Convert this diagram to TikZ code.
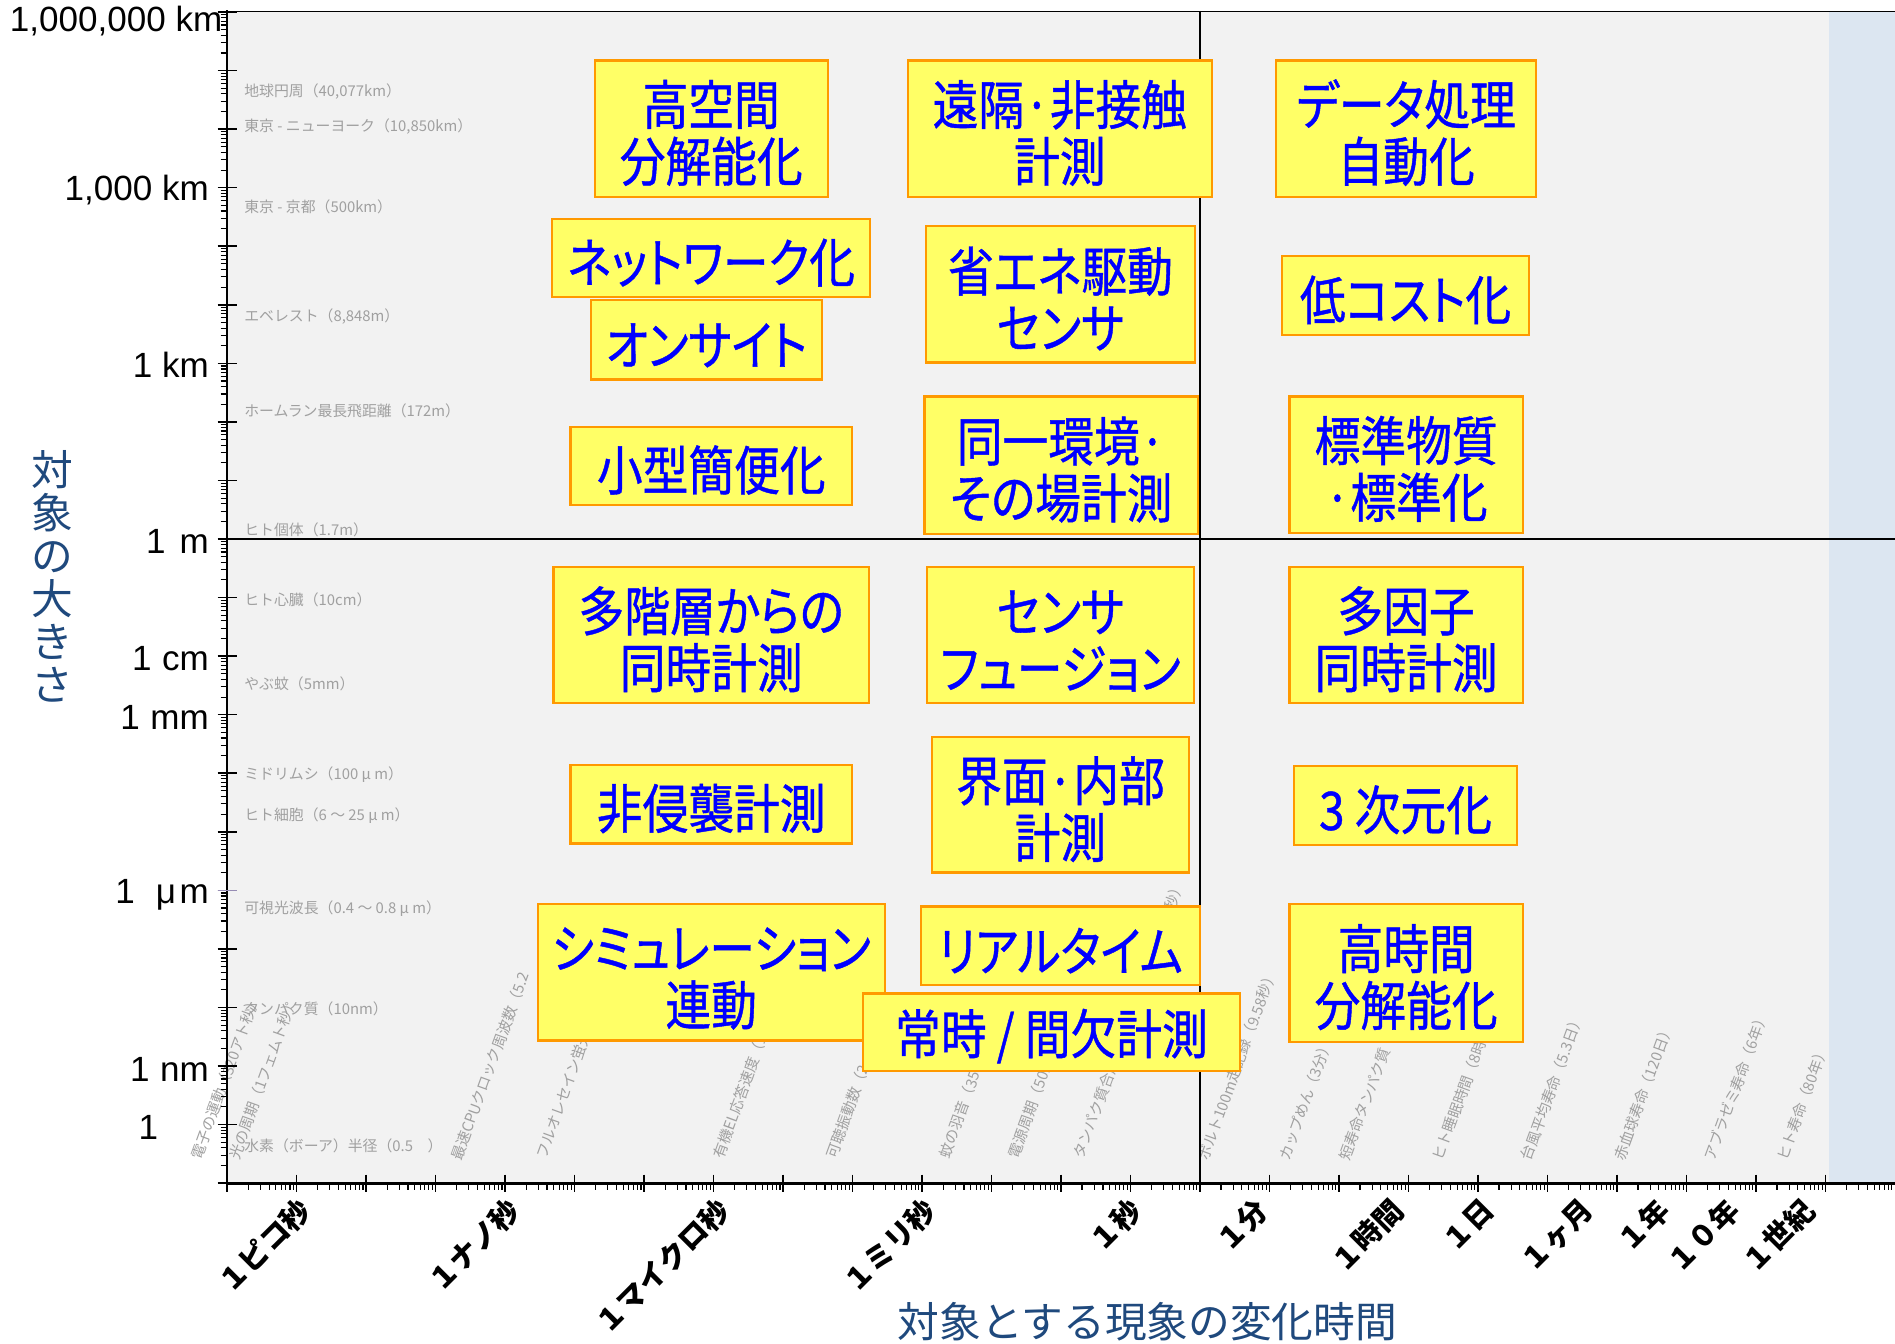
\documentclass[tikz,border=0pt]{standalone}
\usepackage{fontspec}
\setmainfont{Liberation Sans}
\newfontfamily\jp{Noto Sans CJK JP}
\newfontfamily\jpp[RawFeature=+palt, FakeStretch=0.86, FakeBold=0.8]{Noto Sans CJK JP}
\definecolor{boxyellow}{RGB}{255,255,102}
\definecolor{boxorange}{RGB}{255,153,0}
\definecolor{boxblue}{RGB}{0,0,255}
\definecolor{titleblue}{RGB}{31,73,125}
\definecolor{plotbg}{RGB}{242,242,242}
\definecolor{bandblue}{RGB}{220,230,241}
\definecolor{refgray}{RGB}{160,160,160}
\definecolor{tickpurple}{RGB}{150,140,180}
\newcommand\myboxfont{\jpp\fontsize{44}{47}\selectfont}
\newcommand\mybs{\rule{0pt}{44pt}}
\newcommand\myreffont{\jp\fontsize{12.3}{14}\selectfont}
\newcommand\myrotfont{\jp\fontsize{12.3}{14}\selectfont}
\newcommand\myylabfont{\fontsize{29}{34}\selectfont}
\newcommand\myxlabfont{\jp\bfseries\fontsize{24}{28}\selectfont}
\newcommand\mytitlefont{\jp\fontsize{34.5}{35.5}\selectfont}
\begin{document}
\begin{tikzpicture}[x=1pt,y=-1pt,
  sbox/.style={draw=boxorange, line width=1.8pt, fill=boxyellow, text=boxblue, font=\myboxfont, align=center, inner sep=0pt},
  reflab/.style={text=refgray, font=\myreffont, inner sep=0pt, anchor=west},
  rotlab/.style={text=refgray, font=\myrotfont, inner sep=0pt, anchor=south west, rotate=70},
  ylab/.style={font=\myylabfont, inner sep=0pt, anchor=east},
  xlab/.style={font=\myxlabfont, inner sep=0pt, anchor=east, rotate=45},
  axtitle/.style={text=titleblue, font=\mytitlefont, inner sep=0pt, align=center},
  majtick/.style={line width=1.3pt},
  mintick/.style={line width=0.9pt}]
\useasboundingbox (0,0) rectangle (1568,1112);
\fill[white] (0,0) rectangle (1568,1112);
\fill[plotbg] (188,9) rectangle (1513,979);
\fill[bandblue] (1513,9) rectangle (1568,979);

% reference sizes
\node[reflab] (r1) at (202,76) {地球円周（40,077km）};
\node[reflab] (r2) at (202,105) {東京 - ニューヨーク（10,850km）};
\node[reflab] (r3) at (202,171) {東京 - 京都（500km）};
\node[reflab] (r4) at (202,262) {エベレスト（8,848m）};
\node[reflab] (r5) at (202,340) {ホームラン最長飛距離（172m）};
\node[reflab] (r6) at (202,438) {ヒト個体（1.7m）};
\node[reflab] (r7) at (202,496) {ヒト心臓（10cm）};
\node[reflab] (r8) at (202,566) {やぶ蚊（5mm）};
\node[reflab] (r9) at (202,641) {ミドリムシ（100 μ m）};
\node[reflab] (r10) at (202,675) {ヒト細胞（6 ～ 25 μ m）};
\node[reflab] (r11) at (202,752) {可視光波長（0.4 ～ 0.8 μ m）};
\node[reflab] (r12) at (202,835) {タンパク質（10nm）};
\node[reflab] (r13) at (202,948) {水素（ボーア）半径（0.5\hspace{12pt}）};

% reference times
\node[rotlab] (t1) at (168,961) {電子の運動（320アト秒）};
\node[rotlab] (t2) at (199,961) {光の周期（1フェムト秒）};
\node[rotlab] (t3) at (383,962) {最速CPUクロック周波数（5.2};
\node[rotlab] (t4) at (453,960) {フルオレセイン蛍光};
\node[rotlab] (t5) at (600,960) {有機EL応答速度（1};
\node[rotlab] (t6) at (693,960) {可聴振動数（2};
\node[rotlab] (t7) at (787,960) {蚊の羽音（350};
\node[rotlab] (t8) at (844,960) {電源周期（50H};
\node[rotlab] (t9) at (898,960) {タンパク質合成\hspace{66pt}（\hspace{54pt}秒）};
\node[rotlab] (t10) at (1001,962) {ボルト100m走記録（9.58秒）};
\node[rotlab] (t11) at (1068,962) {カップめん（3分）};
\node[rotlab] (t12) at (1118,962) {短寿命タンパク質（};
\node[rotlab] (t13) at (1195,962) {ヒト睡眠時間（8時間};
\node[rotlab] (t14) at (1268,962) {台風平均寿命（5.3日）};
\node[rotlab] (t15) at (1345,962) {赤血球寿命（120日）};
\node[rotlab] (t16) at (1420,962) {アブラゼミ寿命（6年）};
\node[rotlab] (t17) at (1480,962) {ヒト寿命（80年）};

% dividers and frame
\draw[line width=1.2pt] (188,446) -- (1568,446);
\draw[line width=1.2pt] (993,9) -- (993,979);
\draw[line width=1.5pt] (188,9.5) -- (1568,9.5);

% axes
\draw[line width=2pt] (188,8.5) -- (188,980);
\draw[line width=2.2pt] (187,979) -- (1568,979);

% left ticks
\foreach \d in {-11,...,9} {\draw[majtick] (180,{446-48.45*\d}) -- (196,{446-48.45*\d});}
\foreach \d in {-11,...,8} {\foreach \m in {0.30103,0.47712,0.60206,0.69897,0.77815,0.84510,0.90309,0.95424} {\draw[mintick] (182.5,{446-48.45*(\d+\m)}) -- (188,{446-48.45*(\d+\m)});}}
\draw[majtick, tickpurple] (180,{446+48.45*6}) -- (196,{446+48.45*6});

% bottom ticks
\foreach \d in {-13,...,10} {\draw[majtick] ({188+57.5*(\d+13)},972) -- ({188+57.5*(\d+13)},986);}
\foreach \d in {-13,...,10} {\foreach \m in {0.30103,0.47712,0.60206,0.69897,0.77815,0.84510,0.90309,0.95424} {\draw[mintick] ({188+57.5*(\d+13+\m)},979) -- ({188+57.5*(\d+13+\m)},985);}}

% y axis labels
\node[ylab, anchor=west] (y9) at (8,17) {1,000,000 km};
\node[ylab] (y6) at (173,157) {1,000 km};
\node[ylab] (y3) at (173,302) {1 km};
\node[ylab] (y0) at (173,448) {1\hspace{0.4em}m};
\node[ylab] (ym2) at (173,545) {1\hspace{0.3em}cm};
\node[ylab] (ym3) at (173,594) {1\hspace{0.3em}mm};
\node[ylab] (ym6) at (173,740) {1\hspace{0.6em}μ\hspace{0.1em}m};
\node[ylab] (ym9) at (173,885) {1\hspace{0.3em}nm};
\node[ylab] (ym10) at (131,933) {1};

% x axis labels
\node[xlab] (xps) at (253,997) {１ピコ秒};
\node[xlab] (xns) at (426,997) {１ナノ秒};
\node[xlab] (xus) at (599,997) {１マイクロ秒};
\node[xlab] (xms) at (770,997) {１ミリ秒};
\node[xlab] (xs) at (940,997) {１秒};
\node[xlab] (xmin) at (1045,997) {１分};
\node[xlab] (xh) at (1157,997) {１時間};
\node[xlab] (xd) at (1232,997) {１日};
\node[xlab] (xmo) at (1314,997) {１ヶ月};
\node[xlab] (xy) at (1377,997) {１年};
\node[xlab] (x10y) at (1435,997) {１０年};
\node[xlab] (xc) at (1497,997) {１世紀};

% axis titles
\node[axtitle] (ytitle) at (43,477) {対\\象\\の\\大\\き\\さ};
\node[axtitle] (xtitle) at (949.5,1094) {対象とする現象の変化時間};

% boxes
\node[sbox, minimum width=193pt, minimum height=113pt] (b1) at (588.5,106.5) {\mybs 高空間\\分解能化};
\node[sbox, minimum width=263pt, minimum height=65pt] (b2) at (588.5,213.5) {\mybs ネットワーク化};
\node[sbox, minimum width=191pt, minimum height=66pt] (b3) at (584.5,281) {\mybs オンサイト};
\node[sbox, minimum width=233pt, minimum height=65pt] (b4) at (588.5,385.5) {\mybs 小型簡便化};
\node[sbox, minimum width=252pt, minimum height=113pt] (b5) at (877,106.5) {\mybs 遠隔·非接触\\計測};
\node[sbox, minimum width=223pt, minimum height=113pt] (b6) at (877.5,243.5) {\mybs 省エネ駆動\\センサ};
\node[sbox, minimum width=226pt, minimum height=114pt] (b7) at (878,385) {\mybs 同一環境·\\その場計測};
\node[sbox, minimum width=215pt, minimum height=113pt] (b8) at (1163.5,106.5) {\mybs データ処理\\自動化};
\node[sbox, minimum width=204pt, minimum height=65pt] (b9) at (1163,244.5) {\mybs 低コスト化};
\node[sbox, minimum width=193pt, minimum height=113pt] (b10) at (1163.5,384.5) {\mybs 標準物質\\·標準化};
\node[sbox, minimum width=261pt, minimum height=113pt] (b11) at (588.5,525.5) {\mybs 多階層からの\\同時計測};
\node[sbox, minimum width=233pt, minimum height=65pt] (b12) at (588.5,665.5) {\mybs 非侵襲計測};
\node[sbox, minimum width=287pt, minimum height=113pt] (b13) at (588.5,804.5) {\mybs シミュレーション\\連動};
\node[sbox, minimum width=221pt, minimum height=113pt] (b14) at (877.5,525.5) {\mybs センサ\\フュージョン};
\node[sbox, minimum width=213pt, minimum height=112pt] (b15) at (877.5,666) {\mybs 界面·内部\\計測};
\node[sbox, minimum width=231pt, minimum height=65pt] (b16) at (877.5,782.5) {\mybs リアルタイム};
\node[sbox, minimum width=312pt, minimum height=64pt] (b17) at (870,854) {\mybs 常時 / 間欠計測};
\node[sbox, minimum width=193pt, minimum height=113pt] (b18) at (1163.5,525.5) {\mybs 多因子\\同時計測};
\node[sbox, minimum width=184pt, minimum height=65pt] (b19) at (1163,666.5) {\mybs 3 次元化};
\node[sbox, minimum width=193pt, minimum height=114pt] (b20) at (1163.5,805) {\mybs 高時間\\分解能化};
\end{tikzpicture}
\end{document}
